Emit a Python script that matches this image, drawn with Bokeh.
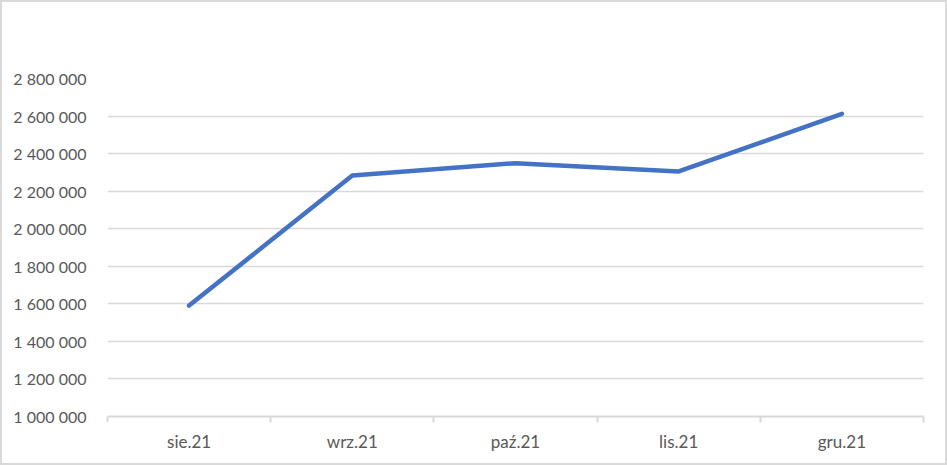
from bokeh.plotting import figure
from bokeh.models import FixedTicker, Range1d, ColumnDataSource
from bokeh.embed import file_html
from bokeh.resources import INLINE

categories = ["sie.21", "wrz.21", "paź.21", "lis.21", "gru.21"]
values = [1591000, 2283000, 2349000, 2305000, 2612000]
y_ticks = [1000000, 1200000, 1400000, 1600000, 1800000, 2000000, 2200000, 2400000, 2600000, 2800000]
y_labels = ["1 000 000", "1 200 000", "1 400 000", "1 600 000", "1 800 000",
            "2 000 000", "2 200 000", "2 400 000", "2 600 000", "2 800 000"]

xs = list(range(len(categories)))
src = ColumnDataSource(dict(x=xs, y=values))

p = figure(width=947, height=465, output_backend="svg", toolbar_location=None,
           x_range=Range1d(-0.5, len(categories) - 0.5),
           y_range=Range1d(y_ticks[0], y_ticks[-1]),
           min_border_left=107, min_border_right=24, min_border_top=78, min_border_bottom=49)
p.styles = {"box-shadow": "inset 0 0 0 2px #d9d9d9", "background-color": "white"}

p.line("x", "y", source=src, line_color="#4472C4", line_width=4.5,
       line_cap="round", line_join="round")

# x axis
p.xaxis.ticker = FixedTicker(ticks=xs, minor_ticks=[i - 0.5 for i in range(len(categories) + 1)])
p.xaxis.major_label_overrides = {i: c for i, c in zip(xs, categories)}
p.xaxis.major_tick_line_color = None
p.xaxis.minor_tick_line_color = "#d9d9d9"
p.xaxis.minor_tick_line_width = 2
p.xaxis.minor_tick_out = 6
p.xaxis.minor_tick_in = 0
p.xaxis.axis_line_color = "#d9d9d9"
p.xaxis.axis_line_width = 2
p.xaxis.major_label_text_font = "Lato"
p.xaxis.major_label_text_font_size = "17px"
p.xaxis.major_label_text_color = "#595959"
p.xaxis.major_label_standoff = 8

# y axis
p.yaxis.ticker = FixedTicker(ticks=y_ticks)
p.yaxis.major_label_overrides = {t: l for t, l in zip(y_ticks, y_labels)}
p.yaxis.axis_line_color = None
p.yaxis.major_tick_line_color = None
p.yaxis.minor_tick_line_color = None
p.yaxis.major_label_text_font = "Lato"
p.yaxis.major_label_text_font_size = "16px"
p.yaxis.major_label_text_color = "#595959"
p.yaxis.major_label_standoff = 15

p.xgrid.grid_line_color = None
p.ygrid.ticker = FixedTicker(ticks=y_ticks)
p.ygrid.grid_line_color = "#d9d9d9"
p.ygrid.grid_line_width = 1.5

p.outline_line_color = None
p.background_fill_color = "white"
p.border_fill_color = None

open("out.html", "w").write(file_html(p, INLINE))
